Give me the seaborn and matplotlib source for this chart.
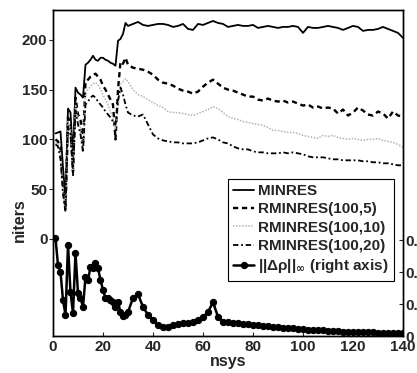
import numpy as np
import pandas as pd
import seaborn as sns
import matplotlib.pyplot as plt

# ---- data ----
nsys = list(range(1, 30)) + list(range(30, 141, 2))

minres = [106, 107, 108, 72, 40, 131, 127, 82, 152, 147, 145, 142, 175, 177, 180,
          184, 180, 179, 182, 182, 180, 179, 177, 176, 174, 199, 201, 206, 217,
          214, 216, 218, 215, 214, 215, 216, 216, 215, 213,
          214, 216, 211, 210, 216, 215, 217, 219, 217, 216,
          213, 214, 215, 214, 214, 215, 212, 213, 214, 213,
          212, 213, 213, 214, 213, 207, 213, 212, 212, 213,
          214, 213, 212, 210, 212, 214, 213, 209, 210, 210,
          211, 213, 211, 209, 207, 202]

rminres_5 = [100, 98, 90, 55, 30, 122, 115, 68, 142, 125, 120, 95, 158, 160, 163,
             165, 166, 163, 160, 154, 150, 145, 140, 135, 100, 150, 178, 176, 182,
             175, 172, 171, 170, 168, 165, 160, 157, 156, 154,
             151, 149, 148, 146, 148, 153, 157, 160, 156, 152,
             150, 149, 147, 145, 143, 143, 140, 139, 141, 139,
             138, 139, 137, 138, 136, 134, 135, 132, 133, 131,
             132, 131, 126, 130, 124, 127, 132, 129, 125, 124,
             128, 126, 121, 128, 124, 123]

rminres_10 = [97, 95, 85, 50, 28, 118, 110, 65, 135, 120, 112, 90, 148, 150, 153,
              156, 157, 155, 150, 145, 140, 135, 128, 122, 111, 130, 155, 158, 161,
              158, 150, 145, 143, 140, 137, 134, 132, 128, 127,
              127, 126, 125, 124, 126, 128, 130, 133, 131, 127,
              123, 121, 120, 118, 117, 116, 115, 114, 112, 109,
              109, 108, 107, 107, 106, 104, 103, 102, 101, 104,
              103, 104, 102, 101, 100, 101, 100, 99, 100, 100,
              101, 99, 98, 97, 95, 92]

rminres_20 = [95, 93, 80, 45, 27, 112, 105, 64, 129, 115, 105, 87, 135, 138, 142,
              144, 142, 138, 135, 132, 128, 125, 122, 118, 115, 139, 152, 145, 135,
              127, 124, 123, 125, 115, 105, 101, 99, 98, 97,
              97, 96, 96, 96, 97, 99, 101, 102, 100, 97,
              96, 93, 91, 90, 90, 88, 87, 87, 86, 86,
              86, 87, 86, 87, 86, 85, 83, 82, 82, 82,
              81, 80, 80, 79, 79, 79, 79, 78, 78, 77,
              77, 76, 76, 75, 74, 74]

drho = [0.306, 0.222, 0.200, 0.112, 0.066, 0.284, 0.137, 0.072, 0.260, 0.134,
        0.119, 0.091, 0.184, 0.175, 0.216, 0.212, 0.228, 0.212, 0.175, 0.144,
        0.119, 0.119, 0.112, 0.106, 0.091, 0.106, 0.075, 0.063, 0.066,
        0.075, 0.119, 0.131, 0.091, 0.066, 0.050, 0.033, 0.029, 0.028, 0.033,
        0.037, 0.040, 0.042, 0.044, 0.051, 0.058, 0.075, 0.106, 0.060, 0.045,
        0.043, 0.041, 0.040, 0.038, 0.036, 0.034, 0.033, 0.031, 0.030, 0.028,
        0.027, 0.026, 0.025, 0.024, 0.022, 0.021, 0.020, 0.019, 0.018, 0.018,
        0.017, 0.016, 0.015, 0.014, 0.014, 0.013, 0.012, 0.012, 0.011, 0.011,
        0.010, 0.010, 0.010, 0.009, 0.009, 0.009]

left_ticks = [0, 50, 100, 150, 200]
right_ticks = [0, 0.1, 0.2, 0.3]
right_labels = ['0', '0.1', '0.2', '0.3']
x_ticks = [0, 20, 40, 60, 80, 100, 120, 140]

# ---- style ----
sns.set_style("ticks")
plt.rcParams['font.family'] = ['Liberation Sans', 'DejaVu Sans']
plt.rcParams['font.weight'] = 'bold'
plt.rcParams['axes.labelweight'] = 'bold'

fig = plt.figure(figsize=(4.17, 3.73), dpi=100)
ax = fig.add_axes([53 / 417, 37 / 373, 350 / 417, 326 / 373])

sns.lineplot(x=nsys, y=minres, ax=ax, color='black', lw=1.3, label='MINRES')
sns.lineplot(x=nsys, y=rminres_5, ax=ax, color='black', lw=1.7,
             linestyle=(0, (2.2, 1.6)), label='RMINRES(100,5)')
sns.lineplot(x=nsys, y=rminres_10, ax=ax, color='#b4b4b4', lw=1.1,
             linestyle=(0, (1, 1)), label='RMINRES(100,10)')
sns.lineplot(x=nsys, y=rminres_20, ax=ax, color='black', lw=1.3,
             linestyle=(0, (3, 1.5, 1, 1.5)), label='RMINRES(100,20)')

ax.set_xlim(0, 140)
ax.set_ylim(-97.5, 230)
ax.set_xticks(x_ticks)
ax.set_yticks(left_ticks)
ax.set_xlabel('nsys', fontsize=11.5, labelpad=0)
ax.set_ylabel('niters', fontsize=11.5)
ax.yaxis.set_label_coords(-0.075, 0.356)
ax.tick_params(axis='x', direction='in', length=3, labelsize=11, pad=3)
ax.tick_params(axis='y', direction='out', length=3, labelsize=11, pad=1)

ax2 = ax.twinx()
sns.lineplot(x=nsys, y=drho, ax=ax2, color='black', lw=1.8, marker='o',
             markersize=4.5, markeredgecolor='black',
             label=r'||Δρ||$_\mathbf{\infty}$ (right axis)')
ax2.set_ylim(0, 1.02)
ax2.set_yticks(right_ticks)
ax2.set_yticklabels(right_labels)
ax2.set_ylabel('')
ax2.tick_params(axis='y', direction='in', length=3, labelsize=11, pad=2)

for a in (ax, ax2):
    for s in a.spines.values():
        s.set_visible(True)
        s.set_linewidth(1.0)
        s.set_color('black')

h1, l1 = ax.get_legend_handles_labels()
h2, l2 = ax2.get_legend_handles_labels()
if ax.get_legend() is not None:
    ax.get_legend().remove()
leg = ax2.legend(h1 + h2, l1 + l2, loc='upper left', bbox_to_anchor=(0.5, 0.482),
                 borderaxespad=0, fontsize=11, handlelength=1.35, handletextpad=0.25,
                 labelspacing=0.28, borderpad=0.35, fancybox=False, framealpha=1,
                 edgecolor='black')
leg.get_frame().set_linewidth(0.8)

fig.savefig('out.png', dpi=100)
